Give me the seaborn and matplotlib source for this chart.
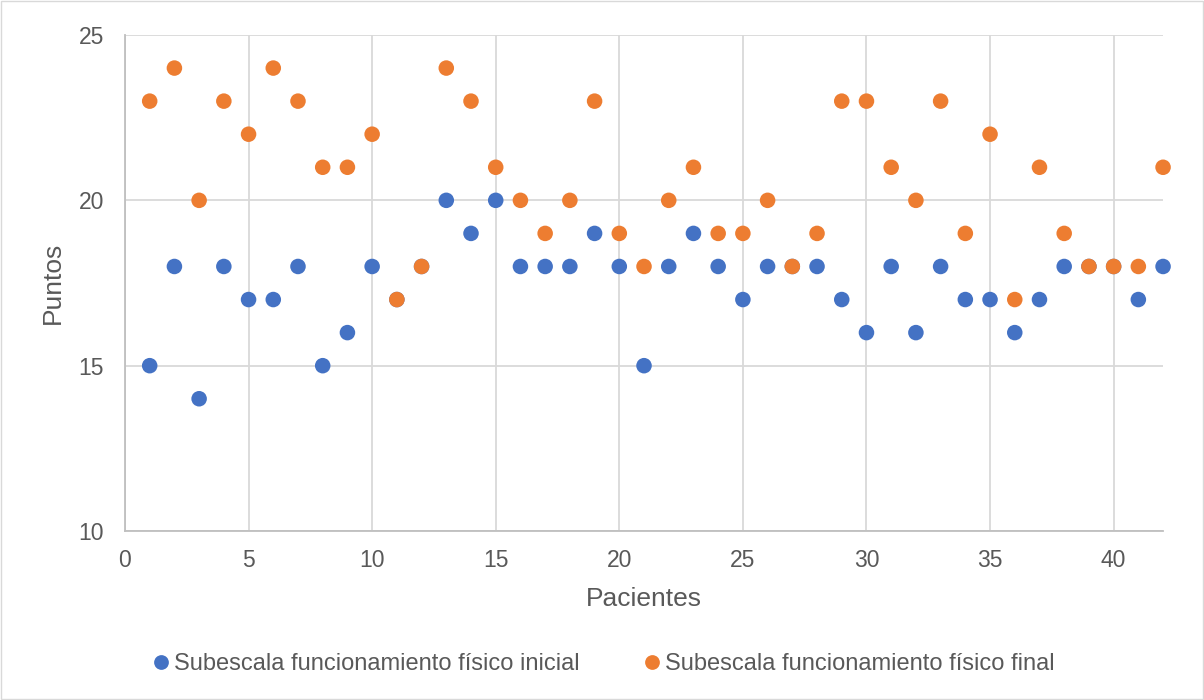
import pandas as pd
import seaborn as sns
import matplotlib.pyplot as plt
from matplotlib.patches import Rectangle

# Data
pacientes = list(range(1, 43))
inicial = [15, 18, 14, 18, 17, 17, 18, 15, 16, 18,
           17, 18, 20, 19, 20, 18, 18, 18, 19, 18,
           15, 18, 19, 18, 17, 18, 18, 18, 17, 16,
           18, 16, 18, 17, 17, 16, 17, 18, 18, 18,
           17, 18]
final = [23, 24, 20, 23, 22, 24, 23, 21, 21, 22,
         17, 18, 24, 23, 21, 20, 19, 20, 23, 19,
         18, 20, 21, 19, 19, 20, 18, 19, 23, 23,
         21, 20, 23, 19, 22, 17, 21, 19, 18, 18,
         18, 21]
series_names = ['Subescala funcionamiento físico inicial',
                'Subescala funcionamiento físico final']
colors = ['#4472C4', '#ED7D31']

df = pd.concat([
    pd.DataFrame({'Pacientes': pacientes, 'Puntos': inicial, 'Serie': series_names[0]}),
    pd.DataFrame({'Pacientes': pacientes, 'Puntos': final, 'Serie': series_names[1]}),
], ignore_index=True)

sns.set_style('white')
plt.rcParams['font.family'] = ['Liberation Sans', 'DejaVu Sans']

fig = plt.figure(figsize=(12.04, 7.0), dpi=100)
ax = fig.add_axes([0.1038, 0.2414, 0.8622, 0.7086])

sns.scatterplot(data=df, x='Pacientes', y='Puntos', hue='Serie',
                palette=dict(zip(series_names, colors)),
                s=125, linewidth=0, ax=ax, zorder=3, clip_on=False, legend=True)

ax.set_xlim(0, 42)
ax.set_ylim(10, 25)
ax.set_xticks(range(0, 41, 5))
ax.set_yticks(range(10, 26, 5))
ax.grid(True, color='#D9D9D9', linewidth=1.3)
ax.set_axisbelow(True)
for side in ['top', 'right']:
    ax.spines[side].set_visible(False)
for side in ['left', 'bottom']:
    ax.spines[side].set_color('#BFBFBF')
    ax.spines[side].set_linewidth(1.3)
ax.tick_params(axis='both', length=0, labelsize=16.5, labelcolor='#595959')
ax.tick_params(axis='y', pad=15)
ax.tick_params(axis='x', pad=13)
ax.set_xlabel('Pacientes', fontsize=19, color='#595959', labelpad=11)
ax.set_ylabel('Puntos', fontsize=19, color='#595959', labelpad=10)

handles, labels = ax.get_legend_handles_labels()
ax.get_legend().remove()
fig.legend(handles, labels, loc='center', bbox_to_anchor=(0.495, 0.051), ncol=2,
           frameon=False, fontsize=17, labelcolor='#595959', handletextpad=-0.45,
           columnspacing=2.1, markerscale=0.95)

# light border around the chart
fig.patches.append(Rectangle((0.001, 0.001), 0.998, 0.997, transform=fig.transFigure,
                             fill=False, edgecolor='#D9D9D9', linewidth=1))

plt.savefig('out.png', dpi=100)
